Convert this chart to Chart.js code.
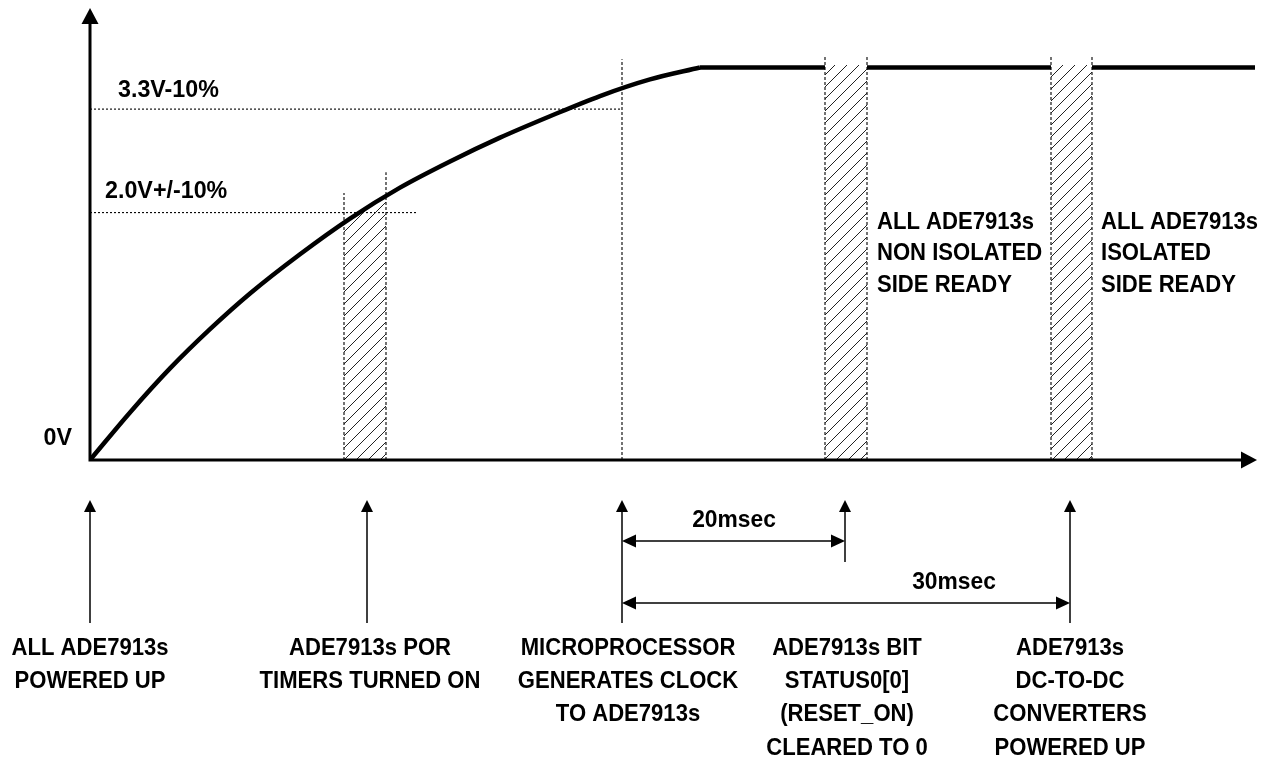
<!DOCTYPE html>
<html>
<head>
<meta charset="utf-8">
<script src="https://cdn.jsdelivr.net/npm/chart.js@4.4.0/dist/chart.umd.min.js"></script>
<style>
  html, body { margin: 0; padding: 0; background: #fff; }
  #wrap { width: 1272px; height: 758px; }
</style>
</head>
<body>
<div id="wrap"><canvas id="myChart" width="1272" height="758"></canvas></div>
<script>
// time axis is in arbitrary units (not to scale), voltage in V
let curveX = [0, 4, 8, 12, 16, 21, 26, 31, 36, 41, 46, 51, 56, 61];
let curveV = [0, 0.40, 0.77, 1.10, 1.40, 1.73, 2.03, 2.29, 2.51, 2.71, 2.89, 3.06, 3.20, 3.30];
let plateauV = 3.30;
let plateauX = [[61, 73.5], [77.7, 96.1], [100.2, 116.5]];

// hatched windows: [start, end] and the rail height at each edge
let hatchX = [[25.4, 29.6], [73.5, 77.7], [96.1, 100.2]];
let hatchV = [[1.99, 2.22], [3.32, 3.32], [3.32, 3.32]];

// dotted guides
let vGuideX = [25.4, 29.6, 53.2, 73.5, 77.7, 96.1, 100.2];
let vGuideTop = [2.245, 2.42, 3.37, 3.40, 3.40, 3.40, 3.40];
let hGuideV = [2.95, 2.08];
let hGuideEnd = [53.2, 32.6];

let xAxisEnd = 116.7;
let yAxisEnd = 3.8;

let levelLabels = ["3.3V-10%", "2.0V+/-10%", "0V"];
let levelLabelX = [2.8, 1.5, -1.8];
let levelLabelV = [3.11, 2.26, 0.18];

let readyLabels = [
  ["ALL ADE7913s", "NON ISOLATED", "SIDE READY"],
  ["ALL ADE7913s", "ISOLATED", "SIDE READY"],
];
let readyLabelX = [78.7, 101.1];
let readyLabelV = 2.0;

let eventX = [0, 27.7, 53.2, 75.5, 98.0];
let eventLabelX = [0, 28.0, 53.8, 75.7, 98.0];
let eventLabels = [
  ["ALL ADE7913s", "POWERED UP"],
  ["ADE7913s POR", "TIMERS TURNED ON"],
  ["MICROPROCESSOR", "GENERATES CLOCK", "TO ADE7913s"],
  ["ADE7913s BIT", "STATUS0[0]", "(RESET_ON)", "CLEARED TO 0"],
  ["ADE7913s", "DC-TO-DC", "CONVERTERS", "POWERED UP"],
];

let spanLabels = ["20msec", "30msec"];
let spanFrom = [53.2, 53.2];
let spanTo = [75.5, 98.0];
let spanLabelX = [64.4, 86.4];

let FONT = 'bold 24px "Liberation Sans", Arial, sans-serif';

function makeHatch(ctx) {
  let c = document.createElement("canvas");
  c.width = 12;
  c.height = 12;
  let g = c.getContext("2d");
  g.strokeStyle = "#222";
  g.lineWidth = 1;
  g.beginPath();
  g.moveTo(-12, 12); g.lineTo(0, 0);
  g.moveTo(0, 12); g.lineTo(12, 0);
  g.moveTo(12, 12); g.lineTo(24, 0);
  g.stroke();
  return ctx.createPattern(c, "repeat");
}

function arrowHead(ctx, tx, ty, dir, len, half) {
  ctx.beginPath();
  ctx.moveTo(tx, ty);
  if (dir == "up") {
    ctx.lineTo(tx - half, ty + len);
    ctx.lineTo(tx + half, ty + len);
  } else if (dir == "right") {
    ctx.lineTo(tx - len, ty - half);
    ctx.lineTo(tx - len, ty + half);
  } else {
    ctx.lineTo(tx + len, ty - half);
    ctx.lineTo(tx + len, ty + half);
  }
  ctx.closePath();
  ctx.fill();
}

// the original uses a narrow bold face, so squeeze the text a bit
function label(ctx, str, px, py, align, sx) {
  ctx.save();
  ctx.translate(px, py);
  ctx.scale(sx, 1);
  ctx.textAlign = align;
  ctx.fillText(str, 0, 0);
  ctx.restore();
}

let diagramPlugin = {
  id: "diagram",
  afterDatasetsDraw(chart, args, opts) {
    let ctx = chart.ctx;
    let a = chart.chartArea;
    let x = chart.scales.x;
    let y = chart.scales.y;
    ctx.save();
    ctx.strokeStyle = "#000";
    ctx.fillStyle = "#000";

    // axes
    let x0 = x.getPixelForValue(0);
    let y0 = y.getPixelForValue(0);
    let yTip = y.getPixelForValue(yAxisEnd);
    let xTip = x.getPixelForValue(xAxisEnd);
    ctx.lineWidth = 3;
    ctx.beginPath();
    ctx.moveTo(x0, y0 + 1.5);
    ctx.lineTo(x0, yTip + 12);
    ctx.moveTo(x0 - 1.5, y0);
    ctx.lineTo(xTip - 12, y0);
    ctx.stroke();
    arrowHead(ctx, x0, yTip, "up", 16, 8.5);
    arrowHead(ctx, xTip, y0, "right", 16, 8.5);

    // texts inside the plot
    ctx.font = FONT;
    ctx.textBaseline = "middle";
    for (let i = 0; i < levelLabels.length; i++) {
      label(ctx, levelLabels[i], x.getPixelForValue(levelLabelX[i]), y.getPixelForValue(levelLabelV[i]),
        levelLabelX[i] < 0 ? "right" : "left", 0.97);
    }
    for (let i = 0; i < readyLabels.length; i++) {
      let ty = y.getPixelForValue(readyLabelV);
      readyLabels[i].forEach((line, k) => {
        label(ctx, line, x.getPixelForValue(readyLabelX[i]), ty + k * 31.5, "left", 0.92);
      });
    }

    // event markers under the axis
    ctx.lineWidth = 1.5;
    for (let i = 0; i < eventX.length; i++) {
      let ex = x.getPixelForValue(eventX[i]);
      ctx.beginPath();
      ctx.moveTo(ex, a.bottom + opts.arrowBottom[i]);
      ctx.lineTo(ex, a.bottom + opts.arrowTop + 10);
      ctx.stroke();
      arrowHead(ctx, ex, a.bottom + opts.arrowTop, "up", 12, 6);
    }

    // time spans
    for (let i = 0; i < spanLabels.length; i++) {
      let sy = a.bottom + opts.spanY[i];
      let p1 = x.getPixelForValue(spanFrom[i]);
      let p2 = x.getPixelForValue(spanTo[i]);
      ctx.beginPath();
      ctx.moveTo(p1 + 10, sy);
      ctx.lineTo(p2 - 10, sy);
      ctx.stroke();
      arrowHead(ctx, p1, sy, "left", 14, 6.5);
      arrowHead(ctx, p2, sy, "right", 14, 6.5);
      label(ctx, spanLabels[i], x.getPixelForValue(spanLabelX[i]), sy - 21, "center", 0.95);
    }

    // event captions
    for (let i = 0; i < eventLabels.length; i++) {
      let cx = x.getPixelForValue(eventLabelX[i]);
      eventLabels[i].forEach((line, k) => {
        label(ctx, line, cx, a.bottom + opts.captionY + k * 33.3, "center", 0.92);
      });
    }
    ctx.restore();
  },
};

let init = () => {
  let canvas = document.getElementById("myChart");
  let hatch = makeHatch(canvas.getContext("2d"));

  let rise = [];
  for (let i = 0; i < curveX.length; i++) rise.push({ x: curveX[i], y: curveV[i] });

  // plateau, broken where the hatched windows sit
  let plateau = [];
  plateauX.forEach((seg, i) => {
    if (i > 0) plateau.push({ x: (plateauX[i - 1][1] + seg[0]) / 2, y: null });
    plateau.push({ x: seg[0], y: plateauV });
    plateau.push({ x: seg[1], y: plateauV });
  });

  let datasets = [
    {
      label: "rise",
      data: rise,
      borderColor: "#000",
      borderWidth: 4.5,
      cubicInterpolationMode: "monotone",
      fill: false,
    },
    {
      label: "plateau",
      data: plateau,
      borderColor: "#000",
      borderWidth: 4.5,
      spanGaps: false,
      fill: false,
    },
  ];

  for (let i = 0; i < hatchX.length; i++) {
    datasets.push({
      label: "hatch" + i,
      data: [
        { x: hatchX[i][0], y: hatchV[i][0] },
        { x: hatchX[i][1], y: hatchV[i][1] },
      ],
      borderWidth: 0,
      borderColor: "rgba(0,0,0,0)",
      backgroundColor: hatch,
      fill: "origin",
    });
  }

  for (let i = 0; i < vGuideX.length; i++) {
    datasets.push({
      label: "vguide" + i,
      data: [
        { x: vGuideX[i], y: 0 },
        { x: vGuideX[i], y: vGuideTop[i] },
      ],
      borderColor: "#000",
      borderWidth: 1.1,
      borderDash: [3, 2],
      fill: false,
    });
  }
  for (let i = 0; i < hGuideV.length; i++) {
    datasets.push({
      label: "hguide" + i,
      data: [
        { x: 0, y: hGuideV[i] },
        { x: hGuideEnd[i], y: hGuideV[i] },
      ],
      borderColor: "#000",
      borderWidth: 1.1,
      borderDash: [2, 2],
      fill: false,
    });
  }

  new Chart(canvas, {
    type: "line",
    data: { datasets },
    options: {
      responsive: false,
      animation: false,
      layout: { padding: { left: 90, right: 12, top: 8, bottom: 298 } },
      elements: { point: { radius: 0 }, line: { borderCapStyle: "butt" } },
      scales: {
        x: { type: "linear", min: 0, max: 117, display: false },
        y: { type: "linear", min: 0, max: 3.8, display: false },
      },
      plugins: {
        legend: { display: false },
        tooltip: { enabled: false },
        diagram: {
          arrowTop: 40,
          arrowBottom: [163, 163, 163, 102, 163],
          spanY: [81, 143],
          captionY: 188,
        },
      },
    },
    plugins: [diagramPlugin],
  });
};
window.onload = init;
</script>
</body>
</html>
